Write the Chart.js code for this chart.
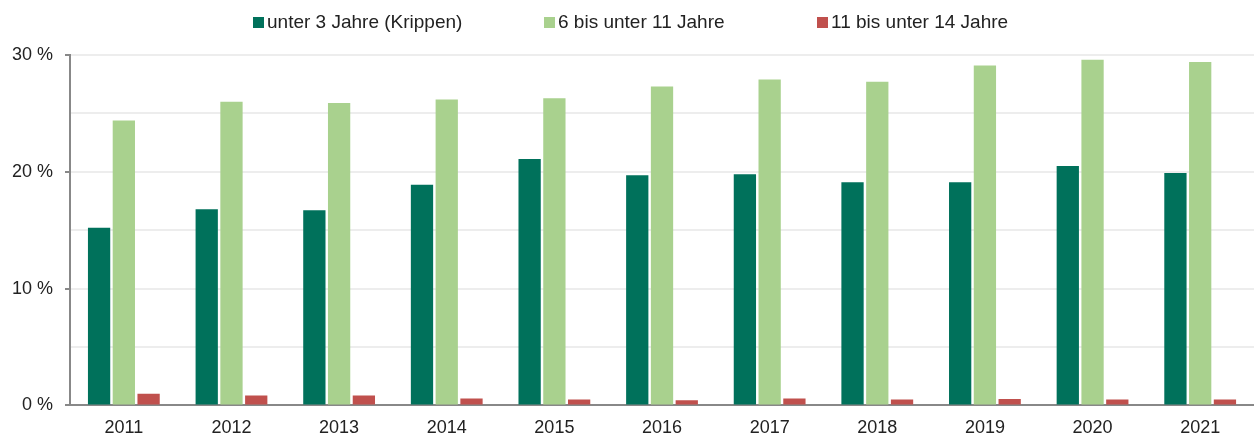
<!DOCTYPE html>
<html>
<head>
<meta charset="utf-8">
<script src="https://cdn.jsdelivr.net/npm/chart.js@4"></script>
<style>
  body { margin: 0; background: #fff; }
  #wrap { position: relative; width: 1254px; height: 437px; }
  #legend {
    position: absolute; top: 11px; left: 253px; right: 0;
    display: flex; justify-content: flex-start;
    font-family: 'Liberation Sans', Arial, sans-serif; font-size: 19px; color: #222;
  }
  #legend span.item { display: flex; align-items: center; white-space: nowrap; }
  #legend span.box { display: inline-block; width: 11px; height: 11px; margin-right: 3px; }
</style>
</head>
<body>
<div id="wrap"><div id="legend"></div><canvas id="chart"></canvas></div>
<script>
const years = ["2011", "2012", "2013", "2014", "2015", "2016", "2017", "2018", "2019", "2020", "2021"];
const unter3 = [15.2, 16.8, 16.7, 18.9, 21.1, 19.7, 19.8, 19.1, 19.1, 20.5, 19.9];
const sechsBis11 = [24.4, 26.0, 25.9, 26.2, 26.3, 27.3, 27.9, 27.7, 29.1, 29.6, 29.4];
const elfBis14 = [1.0, 0.85, 0.85, 0.6, 0.5, 0.45, 0.6, 0.5, 0.55, 0.5, 0.5];
const labeledTicks = [0, 10, 20, 30];
const legendSlots = [291, 273, null];

Chart.defaults.font.family = "'Liberation Sans', Arial, sans-serif";
Chart.defaults.font.size = 18;
Chart.defaults.color = "#222";

const bar = { barPercentage: 0.9, categoryPercentage: 0.69, borderWidth: 0 };

// legend as html so the wide spacing between items can be matched
const htmlLegend = {
  id: "htmlLegend",
  afterUpdate(chart) {
    const el = document.getElementById("legend");
    el.innerHTML = "";
    chart.options.plugins.legend.labels.generateLabels(chart).forEach((item, i) => {
      const span = document.createElement("span");
      span.className = "item";
      if (legendSlots[i]) span.style.width = legendSlots[i] + "px";
      const box = document.createElement("span");
      box.className = "box";
      box.style.background = item.fillStyle;
      span.appendChild(box);
      span.appendChild(document.createTextNode(item.text));
      el.appendChild(span);
    });
  },
};

new Chart(document.getElementById("chart").getContext("2d"), {
  type: "bar",
  data: {
    labels: years,
    datasets: [
      { label: "unter 3 Jahre (Krippen)", data: unter3, backgroundColor: "#00715b", ...bar },
      { label: "6 bis unter 11 Jahre", data: sechsBis11, backgroundColor: "#a9d18e", ...bar },
      { label: "11 bis unter 14 Jahre", data: elfBis14, backgroundColor: "#c0504d", ...bar },
    ],
  },
  options: {
    responsive: true,
    maintainAspectRatio: false,
    animation: false,
    layout: { padding: { top: 55, right: 0, left: 0, bottom: -14 } },
    plugins: {
      tooltip: { enabled: false },
      legend: { display: false },
    },
    scales: {
      x: {
        grid: { display: false, drawTicks: false },
        border: { color: "#888", width: 2 },
        ticks: { padding: 12, color: "#222" },
      },
      y: {
        min: 0,
        max: 30,
        ticks: {
          stepSize: 5,
          padding: 12,
          color: "#222",
          callback: (v) => (labeledTicks.includes(v) ? v + " %" : ""),
        },
        grid: {
          color: (c) => (c.tick && c.tick.value === 0 ? "rgba(0,0,0,0)" : "#ededed"),
          lineWidth: 2,
          tickLength: 5,
          tickColor: (c) => (c.tick && labeledTicks.includes(c.tick.value) ? "#888" : "rgba(0,0,0,0)"),
          tickWidth: 2,
        },
        border: { color: "#888", width: 2 },
      },
    },
  },
  plugins: [htmlLegend],
});
</script>
</body>
</html>
